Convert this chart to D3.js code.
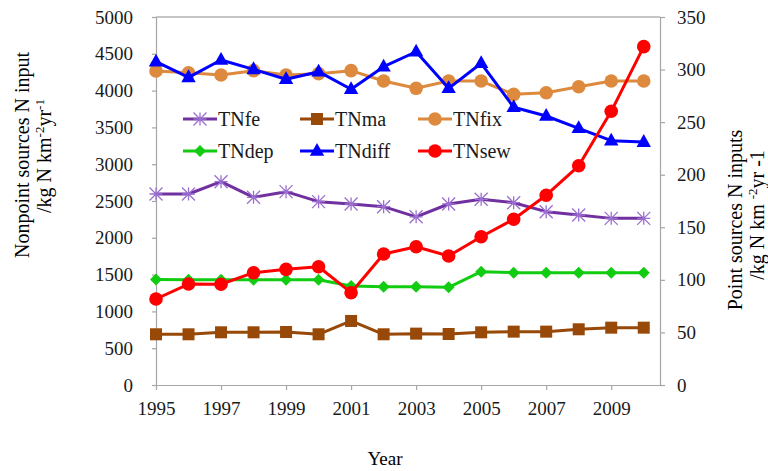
<!DOCTYPE html>
<html>
<head>
<meta charset="utf-8">
<script src="https://cdn.jsdelivr.net/npm/d3@7"></script>
<style>
  body { margin: 0; background: #fff; }
  .axis path, .axis line { stroke: #a6a6a6; stroke-width: 1.2; }
</style>
</head>
<body>
<svg id="chart" width="768" height="471"></svg>
<script>
// values
var years  = [1995,1996,1997,1998,1999,2000,2001,2002,2003,2004,2005,2006,2007,2008,2009,2010];
var tnfe   = [2595,2595,2762,2550,2627,2491,2459,2423,2285,2459,2523,2477,2355,2310,2264,2264];
var tnma   = [689,689,716,716,720,689,870,689,698,693,716,725,725,757,779,779];
var tnfix  = [4266,4243,4212,4271,4212,4230,4271,4130,4031,4130,4130,3949,3971,4053,4130,4130];
var tndep  = [1435,1430,1430,1430,1430,1430,1345,1336,1336,1327,1540,1526,1526,1526,1526,1526];
var tndiff = [4393,4180,4416,4289,4154,4257,4018,4325,4528,4031,4371,3773,3655,3488,3320,3300];
var tnsew  = [81.8,96,95.8,106.8,110,112.5,87.8,124.6,131.5,122.7,141,157.6,180.5,208.5,260.3,321.8]; // right axis
var xTicks = [1995,1997,1999,2001,2003,2005,2007,2009];
var leftTicks  = [0,500,1000,1500,2000,2500,3000,3500,4000,4500,5000];
var rightTicks = [0,50,100,150,200,250,300,350];

var svg = d3.select("#chart");
var pLeft = 156, pRight = 660, pTop = 17, pBottom = 385;

var x  = d3.scaleLinear().domain([1995, 2010.5]).range([pLeft, pRight]),
    yL = d3.scaleLinear().domain([0, 5000]).range([pBottom, pTop]),
    yR = d3.scaleLinear().domain([0, 350]).range([pBottom, pTop]);

// top border of plot area
svg.append("line")
    .attr("x1", pLeft).attr("x2", pRight).attr("y1", pTop).attr("y2", pTop)
    .attr("stroke", "#8c8c8c").attr("stroke-width", 1.2);

svg.append("g")
    .attr("class", "axis")
    .attr("transform", "translate(0," + pBottom + ")")
    .call(d3.axisBottom(x).tickValues(xTicks).tickFormat(d3.format("d"))
          .tickSizeInner(5).tickSizeOuter(0).tickPadding(12));

svg.append("g")
    .attr("class", "axis")
    .attr("transform", "translate(" + pLeft + ",0)")
    .call(d3.axisLeft(yL).tickValues(leftTicks).tickFormat(d3.format("d"))
          .tickSizeInner(4).tickSizeOuter(0).tickPadding(19));

svg.append("g")
    .attr("class", "axis")
    .attr("transform", "translate(" + pRight + ",0)")
    .call(d3.axisRight(yR).tickValues(rightTicks).tickFormat(d3.format("d"))
          .tickSizeInner(5).tickSizeOuter(0).tickPadding(12));

svg.selectAll(".axis text").attr("fill", "#1a1a1a").style("font-size", "19px");

// axis titles
svg.append("text")
    .attr("x", 385).attr("y", 465)
    .attr("text-anchor", "middle").style("font-size", "19px")
    .text("Year");

svg.append("text")
    .attr("transform", "translate(29,155) rotate(-90)")
    .attr("text-anchor", "middle").style("font-size", "20px")
    .text("Nonpoint sources N input");
var lt2 = svg.append("text")
    .attr("transform", "translate(51,156) rotate(-90)")
    .attr("text-anchor", "middle").style("font-size", "20px");
lt2.append("tspan").text("/kg N km");
lt2.append("tspan").attr("dy", -7).style("font-size", "13px").text("-2");
lt2.append("tspan").attr("dy", 7).text("yr");
lt2.append("tspan").attr("dy", -7).style("font-size", "13px").text("-1");

svg.append("text")
    .attr("transform", "translate(742,220) rotate(-90)")
    .attr("text-anchor", "middle").style("font-size", "20px")
    .text("Point sources N inputs");
var rt2 = svg.append("text")
    .attr("transform", "translate(764,215) rotate(-90)")
    .attr("text-anchor", "middle").style("font-size", "20px");
rt2.append("tspan").text("/kg N km ");
rt2.append("tspan").attr("dy", -7).style("font-size", "13px").text("-2");
rt2.append("tspan").attr("dy", 7).text("yr -1");

// series
var series = [
  {name: "TNfe",   vals: tnfe,   axis: yL, color: "#7030a0", mk: "star"},
  {name: "TNma",   vals: tnma,   axis: yL, color: "#984807", mk: "square"},
  {name: "TNfix",  vals: tnfix,  axis: yL, color: "#dd8a3e", mk: "circle"},
  {name: "TNdep",  vals: tndep,  axis: yL, color: "#11cc11", mk: "diamond"},
  {name: "TNdiff", vals: tndiff, axis: yL, color: "#0000ff", mk: "triangle"},
  {name: "TNsew",  vals: tnsew,  axis: yR, color: "#ff0000", mk: "circle"}
];

function marker(g, type, color, px, py) {
  if (type === "circle") {
    g.append("circle").attr("cx", px).attr("cy", py).attr("r", 6.8).attr("fill", color);
  } else if (type === "square") {
    g.append("rect").attr("x", px - 6).attr("y", py - 6).attr("width", 12).attr("height", 12).attr("fill", color);
  } else if (type === "diamond") {
    g.append("path").attr("transform", "translate(" + px + "," + py + ")")
      .attr("d", "M0,-6L6,0L0,6L-6,0Z").attr("fill", color);
  } else if (type === "triangle") {
    g.append("path").attr("transform", "translate(" + px + "," + py + ")")
      .attr("d", "M0,-8L7.2,4.8L-7.2,4.8Z").attr("fill", color);
  } else if (type === "star") {
    var s = 6.5;
    g.append("path").attr("transform", "translate(" + px + "," + py + ")")
      .attr("d", "M0,-" + s + "V" + s + "M-" + s + ",-" + s + "L" + s + "," + s + "M" + s + ",-" + s + "L-" + s + "," + s + "M-" + s + ",0H" + s)
      .attr("stroke", "#9a6fd0").attr("stroke-width", 1.3).attr("fill", "none");
  }
}

var plot = svg.append("g");
series.forEach(function(s) {
  var line = d3.line()
      .x(function(d, i) { return x(years[i]); })
      .y(function(d) { return s.axis(d); });
  var g = plot.append("g");
  g.append("path").datum(s.vals)
      .attr("d", line).attr("fill", "none")
      .attr("stroke", s.color).attr("stroke-width", 3).attr("stroke-linejoin", "round");
  s.vals.forEach(function(v, i) { marker(g, s.mk, s.color, x(years[i]), s.axis(v)); });
});

// legend
var legX = [183, 300, 418], legY = [119, 151];
series.forEach(function(s, i) {
  var lx = legX[i % 3], ly = legY[Math.floor(i / 3)];
  var g = svg.append("g");
  g.append("line").attr("x1", lx).attr("x2", lx + 34).attr("y1", ly).attr("y2", ly)
      .attr("stroke", s.color).attr("stroke-width", 3);
  marker(g, s.mk, s.color, lx + 17, ly);
  g.append("text").attr("x", lx + 35).attr("y", ly + 7)
      .attr("fill", "#1a1a1a").style("font-size", "20px").text(s.name);
});

// every text in Times-like serif, set inline so nothing overrides it
svg.selectAll("text").style("font-family", "'Liberation Serif', 'DejaVu Serif', serif");
</script>
</body>
</html>
